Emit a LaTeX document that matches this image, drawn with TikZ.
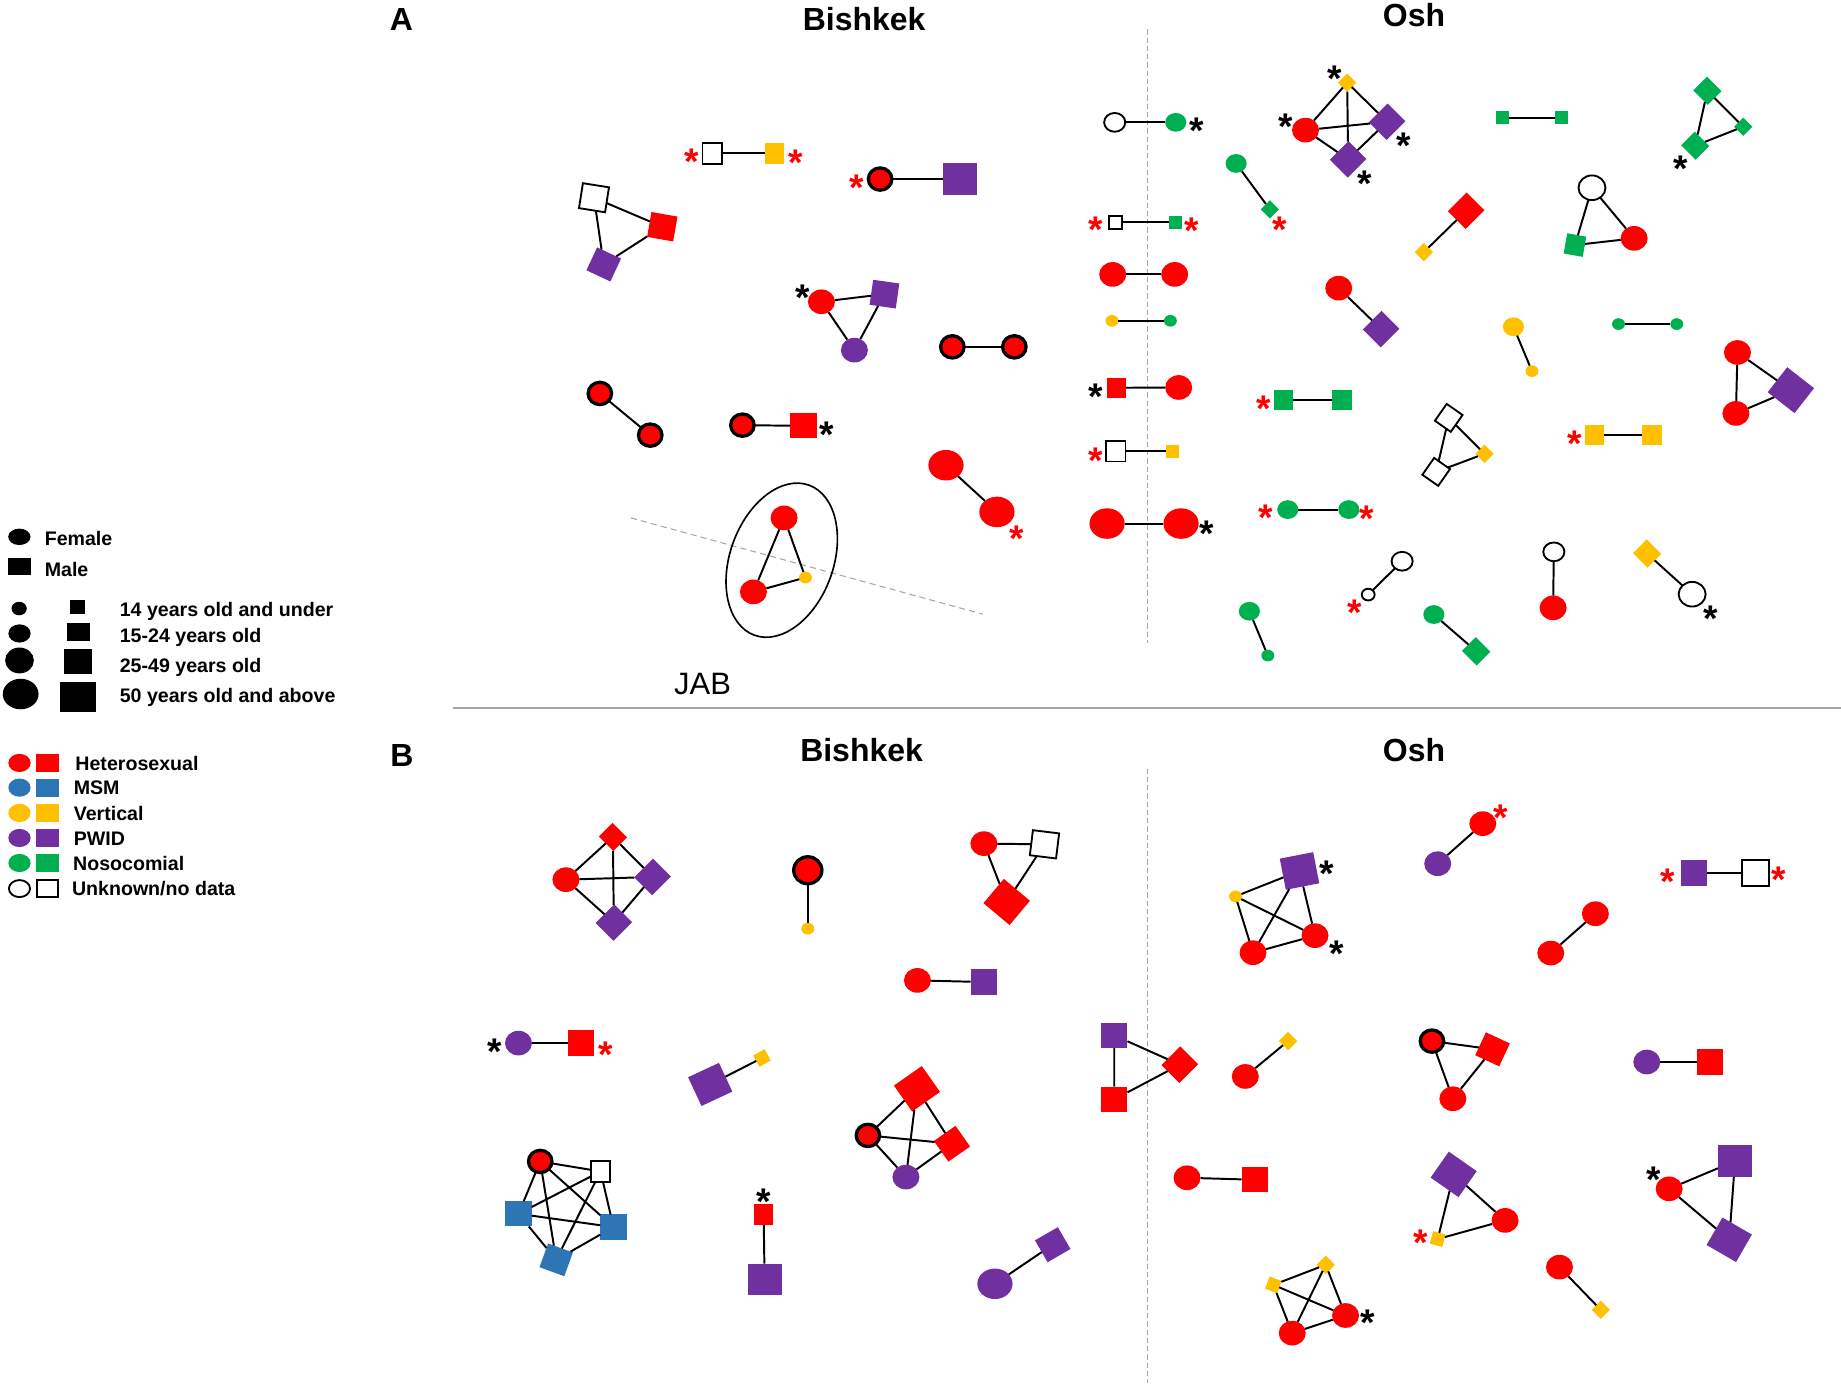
\documentclass[tikz,border=0pt]{standalone}
\usepackage{fontspec}
\setmainfont{Liberation Sans}
\usepackage{xcolor}
\usetikzlibrary{shapes.geometric}

\definecolor{hetc}{HTML}{FF0000}
\definecolor{msmc}{HTML}{2E75B6}
\definecolor{vrtc}{HTML}{FFC000}
\definecolor{pwidc}{HTML}{7030A0}
\definecolor{nosoc}{HTML}{00B050}
\definecolor{rulec}{HTML}{A6A6A6}

\tikzset{
  pt/.style={inner sep=0pt, outer sep=0pt},
  fa/.style={pt, ellipse, minimum width=0.22cm, minimum height=0.20cm},
  fb/.style={pt, ellipse, minimum width=0.36cm, minimum height=0.32cm},
  fc/.style={pt, ellipse, minimum width=0.46cm, minimum height=0.42cm},
  fd/.style={pt, ellipse, minimum width=0.60cm, minimum height=0.52cm},
  ma/.style={pt, rectangle, minimum width=0.22cm, minimum height=0.22cm},
  mb/.style={pt, rectangle, minimum width=0.33cm, minimum height=0.35cm},
  mc/.style={pt, rectangle, minimum width=0.45cm, minimum height=0.43cm},
  md/.style={pt, rectangle, minimum width=0.58cm, minimum height=0.54cm},
  het/.style={fill=hetc},
  msm/.style={fill=msmc},
  vrt/.style={fill=vrtc},
  pwid/.style={fill=pwidc},
  noso/.style={fill=nosoc},
  unk/.style={fill=white, draw=black, line width=0.9pt},
  ring/.style={pt, ellipse, fill=hetc, draw=black, line width=1.6pt,
    minimum width=0.40cm, minimum height=0.38cm},
  link/.style={draw=black, line width=0.95pt},
  ast/.style={inner sep=0pt, font=\fontsize{18}{18}\selectfont\bfseries, yshift=-3.6pt},
  rast/.style={ast, text=hetc},
  ttl/.style={font=\fontsize{15.5}{19}\selectfont\bfseries},
  lgd/.style={anchor=base west, inner sep=0pt, font=\fontsize{9.5}{11}\selectfont\bfseries},
  divide/.style={draw=rulec, line width=0.5pt, dash pattern=on 2.5pt off 1.5pt},
}

\begin{document}
\begin{tikzpicture}[x=0.02cm, y=-0.02cm]
  \useasboundingbox (0,0) rectangle (1568,1178);

  % titles
  \node[ttl] (lA) at (341.9,16.6) {A};
  \node[ttl] (tA1) at (736,16.5) {Bishkek};
  \node[ttl] (tA2) at (1204.3,12.8) {Osh};
  \node[ttl] (lB) at (342.3,643.3) {B};
  \node[ttl] (tB1) at (733.8,638.4) {Bishkek};
  \node[ttl] (tB2) at (1204.3,639) {Osh};

  % dividers
  \coordinate (vA1) at (977.5,25);
  \coordinate (vA2) at (977.5,548);
  \coordinate (vB1) at (977.5,654.6);
  \coordinate (vB2) at (977.5,1178);
  \coordinate (hs1) at (385.7,603);
  \coordinate (hs2) at (1568,603);
  \draw[divide] (vA1) -- (vA2);
  \draw[divide] (vB1) -- (vB2);
  \draw[draw=rulec, line width=1pt] (hs1) -- (hs2);

  % legend
  \node[pt, ellipse, fill=black, minimum width=0.38cm, minimum height=0.28cm] (gfem) at (16.5,457.2) {};
  \node[lgd] (tfem) at (37.8,464.7) {Female};
  \node[pt, fill=black, minimum width=0.38cm, minimum height=0.30cm] (gmal) at (16.6,482.5) {};
  \node[lgd] (tmal) at (37.8,491) {Male};

  \node[pt, ellipse, fill=black, minimum width=0.26cm, minimum height=0.23cm] (gf1) at (16.3,518.3) {};
  \node[pt, fill=black, minimum width=0.26cm, minimum height=0.24cm] (gm1) at (66,517.3) {};
  \node[lgd] (tg1) at (101.7,525.2) {14 years old and under};
  \node[pt, ellipse, fill=black, minimum width=0.38cm, minimum height=0.31cm] (gf2) at (16.6,539.5) {};
  \node[pt, fill=black, minimum width=0.40cm, minimum height=0.32cm] (gm2) at (66.7,538.2) {};
  \node[lgd] (tg2) at (101.7,547) {15-24 years old};
  \node[pt, ellipse, fill=black, minimum width=0.49cm, minimum height=0.44cm] (gf3) at (16.6,562.5) {};
  \node[pt, fill=black, minimum width=0.48cm, minimum height=0.43cm] (gm3) at (66.5,563.5) {};
  \node[lgd] (tg3) at (101.7,572.6) {25-49 years old};
  \node[pt, ellipse, fill=black, minimum width=0.61cm, minimum height=0.52cm] (gf4) at (17.6,591.1) {};
  \node[pt, fill=black, minimum width=0.61cm, minimum height=0.52cm] (gm4) at (66.5,593.7) {};
  \node[lgd] (tg4) at (101.7,598.1) {50 years old and above};

  \node[pt, ellipse, het, minimum width=0.38cm, minimum height=0.31cm] (khf) at (16.6,649.8) {};
  \node[pt, het, minimum width=0.39cm, minimum height=0.31cm] (khm) at (40.5,649.8) {};
  \node[lgd] (tkh) at (63.9,655.8) {Heterosexual};
  \node[pt, ellipse, msm, minimum width=0.38cm, minimum height=0.31cm] (ksf) at (16.6,670.8) {};
  \node[pt, msm, minimum width=0.39cm, minimum height=0.31cm] (ksm) at (40.5,670.8) {};
  \node[lgd] (tks) at (62.5,676.8) {MSM};
  \node[pt, ellipse, vrt, minimum width=0.38cm, minimum height=0.31cm] (kvf) at (16.6,692.4) {};
  \node[pt, vrt, minimum width=0.39cm, minimum height=0.31cm] (kvm) at (40.5,692.4) {};
  \node[lgd] (tkv) at (62.5,698.4) {Vertical};
  \node[pt, ellipse, pwid, minimum width=0.38cm, minimum height=0.31cm] (kpf) at (16.6,713.7) {};
  \node[pt, pwid, minimum width=0.39cm, minimum height=0.31cm] (kpm) at (40.5,713.7) {};
  \node[lgd] (tkp) at (62.5,719.7) {PWID};
  \node[pt, ellipse, noso, minimum width=0.38cm, minimum height=0.31cm] (knf) at (16.6,735) {};
  \node[pt, noso, minimum width=0.39cm, minimum height=0.31cm] (knm) at (40.5,735) {};
  \node[lgd] (tkn) at (62,741) {Nosocomial};
  \node[pt, ellipse, unk, minimum width=0.36cm, minimum height=0.29cm] (kuf) at (16.6,756.8) {};
  \node[pt, unk, minimum width=0.37cm, minimum height=0.29cm] (kum) at (40.5,756.8) {};
  \node[lgd] (tku) at (61,762.8) {Unknown/no data};

  % A: Bishkek
  \node[rast] (a1s) at (589.3,131.5) {*};
  \node[mb, unk] (a1u) at (606.6,130.6) {};
  \node[mb, vrt] (a1v) at (659.5,130.6) {};
  \node[rast] (a1t) at (677.7,132) {*};
  \draw[link] (a1u) -- (a1v);

  \node[rast] (a2s) at (729.7,153.4) {*};
  \node[ring] (a2h) at (749.6,152.5) {};
  \node[md, pwid] (a2p) at (817.7,152.5) {};
  \draw[link] (a2h) -- (a2p);

  \node[mc, unk, rotate=-9] (a3u) at (505.9,168.4) {};
  \node[mc, het, rotate=-10] (a3h) at (564.1,193.1) {};
  \node[mc, pwid, rotate=-25] (a3p) at (514.2,225.2) {};
  \draw[link] (a3u) -- (a3h) (a3u) -- (a3p) (a3h) -- (a3p);

  \node[ast] (a4s) at (683.9,247.1) {*};
  \node[fc, het] (a4h) at (699.6,257) {};
  \node[mc, pwid, rotate=-8] (a4p) at (753.3,250.5) {};
  \node[fc, pwid] (a4q) at (727.7,298.2) {};
  \draw[link] (a4h) -- (a4p) (a4h) -- (a4q) (a4p) -- (a4q);

  \node[ring] (a5x) at (811.1,295.4) {};
  \node[ring] (a5y) at (863.9,295.4) {};
  \draw[link] (a5x) -- (a5y);

  \node[ring] (a6x) at (510.9,335.1) {};
  \node[ring] (a6y) at (553.8,370.6) {};
  \draw[link] (a6x) -- (a6y);

  \node[ring] (a7x) at (632.3,362.1) {};
  \node[mc, het] (a7m) at (684.3,362.7) {};
  \node[ast] (a7s) at (704.5,364.1) {*};
  \draw[link] (a7x) -- (a7m);

  \node[fd, het] (a8x) at (805.7,396.2) {};
  \node[fd, het] (a8y) at (849.1,436) {};
  \node[rast] (a8s) at (866.1,452.4) {*};
  \draw[link] (a8x) -- (a8y);

  % JAB cluster
  \coordinate (jd1) at (537.3,441.1);
  \coordinate (jd2) at (837.1,523.1);
  \draw[draw=rulec, line width=0.5pt, dash pattern=on 3pt off 2pt] (jd1) -- (jd2);
  \node[pt, ellipse, draw=black, line width=0.8pt, minimum width=1.76cm,
    minimum height=2.72cm, rotate=-20] (jring) at (665.8,477.1) {};
  \node[fc, het] (j1) at (667.8,441.1) {};
  \node[fc, het] (j2) at (641.7,504.1) {};
  \node[fa, vrt] (j3) at (686,491.9) {};
  \draw[link] (j1) -- (j2) (j1) -- (j3) (j2) -- (j3);
  \node[font=\fontsize{15}{18}\selectfont] (tjab) at (598.4,582.2) {JAB};

  % A: across the border
  \node[fb, unk] (c1u) at (949.4,104.2) {};
  \node[fb, noso] (c1n) at (1001.4,104.2) {};
  \node[ast] (c1s) at (1019.6,105) {*};
  \draw[link] (c1u) -- (c1n);

  \node[rast] (c2s) at (933.5,189.4) {*};
  \node[ma, unk] (c2u) at (950,189.2) {};
  \node[ma, noso] (c2n) at (1001.3,189.2) {};
  \node[rast] (c2t) at (1015.3,190.3) {*};
  \draw[link] (c2u) -- (c2n);

  \node[fc, het] (c3x) at (947.7,233.7) {};
  \node[fc, het] (c3y) at (1000.5,233.7) {};
  \draw[link] (c3x) -- (c3y);

  \node[fa, vrt] (c4v) at (947.1,273.2) {};
  \node[fa, noso] (c4n) at (996.8,273.2) {};
  \draw[link] (c4v) -- (c4n);

  \node[ast] (c5s) at (933.5,331.4) {*};
  \node[mb, het] (c5m) at (950.8,330.3) {};
  \node[fc, het] (c5h) at (1003.9,330) {};
  \draw[link] (c5m) -- (c5h);

  \node[rast] (c6s) at (933.5,385.7) {*};
  \node[mb, unk] (c6u) at (950.3,384.3) {};
  \node[ma, vrt] (c6v) at (998.5,384.3) {};
  \draw[link] (c6u) -- (c6v);

  \node[fd, het] (c7x) at (942.9,445.9) {};
  \node[fd, het] (c7y) at (1005.9,445.9) {};
  \node[ast] (c7s) at (1028.1,448.2) {*};
  \draw[link] (c7x) -- (c7y);

  % A: Osh
  \node[ma, vrt, rotate=45] (o1v) at (1147.4,70.4) {};
  \node[fc, het] (o1h) at (1111.9,110.8) {};
  \node[mc, pwid, rotate=45] (o1p) at (1181.4,103.7) {};
  \node[mc, pwid, rotate=45] (o1q) at (1148.2,135.7) {};
  \node[ast] (o1s) at (1136.8,61.1) {*};
  \node[ast] (o1t) at (1095.4,101.7) {*};
  \node[ast] (o1u) at (1195.6,117.9) {*};
  \node[ast] (o1w) at (1162.4,150) {*};
  \draw[link] (o1v) -- (o1h) (o1v) -- (o1p) (o1v) -- (o1q)
    (o1h) -- (o1p) (o1h) -- (o1q) (o1p) -- (o1q);

  \node[ma, noso] (o2a) at (1279.4,100.3) {};
  \node[ma, noso] (o2b) at (1330.3,100.3) {};
  \draw[link] (o2a) -- (o2b);

  \node[mb, noso, rotate=45] (o3a) at (1454.2,77.3) {};
  \node[ma, noso, rotate=45] (o3b) at (1484.7,107.9) {};
  \node[mb, noso, rotate=45] (o3c) at (1443.8,124.1) {};
  \node[ast] (o3s) at (1431.4,137.2) {*};
  \draw[link] (o3a) -- (o3b) (o3a) -- (o3c) (o3b) -- (o3c);

  \node[fb, noso] (o4n) at (1052.8,139.2) {};
  \node[ma, noso, rotate=45] (o4d) at (1081.5,178.3) {};
  \node[rast] (o4s) at (1090,189.7) {*};
  \draw[link] (o4n) -- (o4d);

  \node[mc, het, rotate=45] (o5h) at (1248.7,179.5) {};
  \node[ma, vrt, rotate=45] (o5v) at (1212.7,214.7) {};
  \draw[link] (o5h) -- (o5v);

  \node[fc, unk] (o6u) at (1355.9,159.9) {};
  \node[mb, noso, rotate=-10] (o6n) at (1341.4,208.7) {};
  \node[fc, het] (o6h) at (1391.8,203) {};
  \draw[link] (o6u) -- (o6n) (o6u) -- (o6h) (o6n) -- (o6h);

  \node[fc, het] (o7h) at (1140.2,245.4) {};
  \node[mc, pwid, rotate=45] (o7p) at (1176.3,280.3) {};
  \draw[link] (o7h) -- (o7p);

  \node[fb, vrt] (o8v) at (1289,278.3) {};
  \node[fa, vrt] (o8w) at (1304.8,316.1) {};
  \draw[link] (o8v) -- (o8w);

  \node[fa, noso] (o9a) at (1378.5,276) {};
  \node[fa, noso] (o9b) at (1428.1,276) {};
  \draw[link] (o9a) -- (o9b);

  \node[fc, het] (o10x) at (1479.8,300.2) {};
  \node[fc, het] (o10y) at (1478.5,352.1) {};
  \node[md, pwid, rotate=-38] (o10p) at (1525.3,332.3) {};
  \draw[link] (o10x) -- (o10y) (o10x) -- (o10p) (o10y) -- (o10p);

  \node[rast] (o11s) at (1076.4,342.2) {*};
  \node[mb, noso] (o11a) at (1093.4,340.8) {};
  \node[mb, noso] (o11b) at (1143.1,340.8) {};
  \draw[link] (o11a) -- (o11b);

  \node[mb, unk, rotate=-35] (o12a) at (1233.9,355.9) {};
  \node[mb, unk, rotate=-35] (o12b) at (1223.2,401.9) {};
  \node[ma, vrt, rotate=45] (o12v) at (1264.4,386.5) {};
  \draw[link] (o12a) -- (o12b) (o12a) -- (o12v) (o12b) -- (o12v);

  \node[rast] (o13s) at (1340.8,372) {*};
  \node[mb, vrt] (o13a) at (1357.8,370.6) {};
  \node[mb, vrt] (o13b) at (1407,370.6) {};
  \draw[link] (o13a) -- (o13b);

  \node[rast] (o14s) at (1078.3,434.5) {*};
  \node[fb, noso] (o14a) at (1096.8,434) {};
  \node[fb, noso] (o14b) at (1148.8,434) {};
  \node[rast] (o14t) at (1164.4,435.1) {*};
  \draw[link] (o14a) -- (o14b);

  \node[fb, unk] (o15a) at (1194.2,478) {};
  \node[fa, unk] (o15b) at (1165.3,506.4) {};
  \node[rast] (o15s) at (1153.9,515.5) {*};
  \draw[link] (o15a) -- (o15b);

  \node[fb, unk] (o16u) at (1323.4,470) {};
  \node[fc, het] (o16h) at (1322.8,517.7) {};
  \draw[link] (o16u) -- (o16h);

  \node[mb, vrt, rotate=45] (o17v) at (1402.8,471.4) {};
  \node[fc, unk] (o17u) at (1441.2,506.1) {};
  \node[ast] (o17s) at (1456.9,520.3) {*};
  \draw[link] (o17v) -- (o17u);

  \node[fb, noso] (o18a) at (1064.1,520.6) {};
  \node[fa, noso] (o18b) at (1079.8,558.3) {};
  \draw[link] (o18a) -- (o18b);

  \node[fb, noso] (o19n) at (1221.2,523.4) {};
  \node[mb, noso, rotate=45] (o19d) at (1257.3,554.7) {};
  \draw[link] (o19n) -- (o19d);

  % B: Bishkek
  \node[mb, het, rotate=45] (b1d) at (522,712.8) {};
  \node[fc, het] (b1h) at (482,749.2) {};
  \node[mc, pwid, rotate=45] (b1p) at (555.8,746.9) {};
  \node[mc, pwid, rotate=45] (b1q) at (522.8,785.8) {};
  \draw[link] (b1d) -- (b1h) (b1d) -- (b1p) (b1d) -- (b1q)
    (b1h) -- (b1p) (b1h) -- (b1q) (b1p) -- (b1q);

  \node[ring, minimum width=0.48cm, minimum height=0.46cm] (b2h) at (688,741.2) {};
  \node[fa, vrt] (b2v) at (688,790.9) {};
  \draw[link] (b2h) -- (b2v);

  \node[fc, het] (b3h) at (838,718.5) {};
  \node[mc, unk, rotate=-7] (b3u) at (889.6,719.1) {};
  \node[md, het, rotate=-40] (b3d) at (857.4,768.2) {};
  \draw[link] (b3h) -- (b3u) (b3h) -- (b3d) (b3u) -- (b3d);

  \node[fc, het] (b4h) at (781.4,835) {};
  \node[mc, pwid] (b4p) at (838,836.4) {};
  \draw[link] (b4h) -- (b4p);

  \node[ast] (b5s) at (421.7,889.8) {*};
  \node[fc, pwid] (b5p) at (441.6,888.4) {};
  \node[mc, het] (b5m) at (495,888.4) {};
  \node[rast] (b5t) at (516,891.8) {*};
  \draw[link] (b5p) -- (b5m);

  \node[md, pwid, rotate=25] (b6p) at (604.9,923.6) {};
  \node[ma, vrt, rotate=30] (b6v) at (649,901.1) {};
  \draw[link] (b6p) -- (b6v);

  \node[md, het, rotate=35] (b7d) at (781,927.3) {};
  \node[ring] (b7x) at (739.2,967) {};
  \node[mc, het, rotate=35] (b7e) at (810.8,974.1) {};
  \node[fc, pwid] (b7q) at (771.6,1002.5) {};
  \draw[link] (b7x) -- (b7d) (b7x) -- (b7e) (b7x) -- (b7q)
    (b7d) -- (b7e) (b7d) -- (b7q) (b7e) -- (b7q);

  \node[mc, pwid] (b8p) at (949,881.8) {};
  \node[mc, het] (b8m) at (949,936.3) {};
  \node[mc, het, rotate=45] (b8d) at (1004.9,906.8) {};
  \draw[link] (b8p) -- (b8m) (b8p) -- (b8d) (b8m) -- (b8d);

  \node[ring] (b9x) at (460.1,989.2) {};
  \node[mb, unk] (b9u) at (511.5,997.7) {};
  \node[mc, msm] (b9a) at (441.6,1033.8) {};
  \node[mc, msm] (b9b) at (522.5,1045.1) {};
  \node[mc, msm, rotate=-20] (b9c) at (473.7,1073) {};
  \draw[link] (b9x) -- (b9u) (b9x) -- (b9a) (b9x) -- (b9b) (b9x) -- (b9c)
    (b9u) -- (b9a) (b9u) -- (b9b) (b9u) -- (b9c)
    (b9a) -- (b9b) (b9a) -- (b9c) (b9b) -- (b9c);

  \node[ast] (b10s) at (650.4,1017.6) {*};
  \node[mb, het] (b10m) at (650.4,1034.6) {};
  \node[md, pwid] (b10p) at (651.2,1089.7) {};
  \draw[link] (b10m) -- (b10p);

  \node[fd, pwid] (b11q) at (847.4,1093.4) {};
  \node[mc, pwid, rotate=30] (b11d) at (896.6,1060.1) {};
  \draw[link] (b11q) -- (b11d);

  % B: Osh
  \node[md, pwid, rotate=11] (p1s) at (1106.8,741.8) {};
  \node[fa, vrt] (p1v) at (1052.3,763.4) {};
  \node[fc, het] (p1r) at (1120,796.9) {};
  \node[fc, het] (p1b) at (1067.2,811.4) {};
  \node[ast] (p1t) at (1129.6,737.5) {*};
  \node[ast] (p1u) at (1138.2,805.7) {*};
  \draw[link] (p1v) -- (p1s) (p1v) -- (p1r) (p1v) -- (p1b)
    (p1s) -- (p1r) (p1s) -- (p1b) (p1r) -- (p1b);

  \node[fc, het] (p2h) at (1262.9,701.5) {};
  \node[fc, pwid] (p2p) at (1224.5,735.6) {};
  \node[rast] (p2s) at (1277.8,690.1) {*};
  \draw[link] (p2h) -- (p2p);

  \node[rast] (p3s) at (1420.7,744.6) {*};
  \node[mc, pwid] (p3p) at (1442.6,743.5) {};
  \node[mc, unk] (p3u) at (1495.1,743.5) {};
  \node[rast] (p3t) at (1514.9,743.2) {*};
  \draw[link] (p3p) -- (p3u);

  \node[fc, het] (p4a) at (1358.8,778.2) {};
  \node[fc, het] (p4b) at (1320.8,811.7) {};
  \draw[link] (p4a) -- (p4b);

  \node[fc, het] (p5h) at (1060.6,916.8) {};
  \node[ma, vrt, rotate=45] (p5v) at (1097,886.7) {};
  \draw[link] (p5h) -- (p5v);

  \node[ring] (p6x) at (1219.6,886.7) {};
  \node[mc, het, rotate=-25] (p6m) at (1271.2,893.7) {};
  \node[fc, het] (p6h) at (1237.4,935.8) {};
  \draw[link] (p6x) -- (p6m) (p6x) -- (p6h) (p6m) -- (p6h);

  \node[fc, pwid] (p7p) at (1402.6,904.5) {};
  \node[mc, het] (p7m) at (1456.2,904.5) {};
  \draw[link] (p7p) -- (p7m);

  \node[fc, het] (p8h) at (1011,1003.1) {};
  \node[mc, het] (p8m) at (1068.8,1004.8) {};
  \draw[link] (p8h) -- (p8m);

  \node[md, pwid, rotate=-35] (p9d) at (1238.1,1000.2) {};
  \node[fc, het] (p9h) at (1281.9,1039.4) {};
  \node[ma, vrt, rotate=-15] (p9v) at (1224.5,1055.3) {};
  \node[rast] (p9s) at (1210.1,1052.2) {*};
  \draw[link] (p9d) -- (p9h) (p9d) -- (p9v) (p9h) -- (p9v);

  \node[ast] (p10s) at (1408.7,998.8) {*};
  \node[fc, het] (p10h) at (1421.6,1012.5) {};
  \node[md, pwid] (p10q) at (1477.7,988.9) {};
  \node[md, pwid, rotate=-30] (p10d) at (1472.8,1055.9) {};
  \draw[link] (p10h) -- (p10q) (p10h) -- (p10d) (p10q) -- (p10d);

  \node[fc, het] (p11h) at (1328.2,1079.2) {};
  \node[ma, vrt, rotate=45] (p11v) at (1363.3,1115.5) {};
  \draw[link] (p11h) -- (p11v);

  \node[ma, vrt, rotate=-20] (p12a) at (1084.5,1094.3) {};
  \node[ma, vrt, rotate=45] (p12b) at (1129.1,1077.2) {};
  \node[fc, het] (p12r) at (1146,1120.4) {};
  \node[fc, het] (p12s) at (1100.6,1135.4) {};
  \node[ast] (p12t) at (1165,1120.4) {*};
  \draw[link] (p12a) -- (p12b) (p12a) -- (p12r) (p12a) -- (p12s)
    (p12b) -- (p12r) (p12b) -- (p12s) (p12r) -- (p12s);
\end{tikzpicture}
\end{document}
